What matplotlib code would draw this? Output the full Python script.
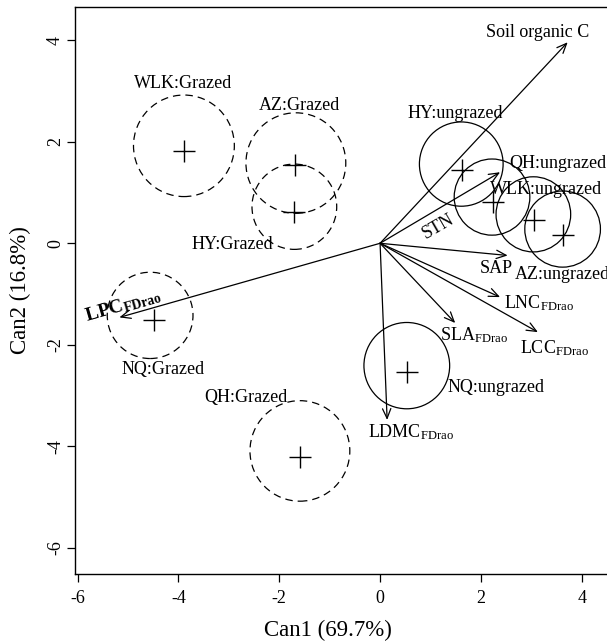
import matplotlib.pyplot as plt
from matplotlib.patches import Circle

plt.rcParams['font.family'] = ['Liberation Serif', 'DejaVu Serif']
plt.rcParams['mathtext.fontset'] = 'custom'
plt.rcParams['mathtext.rm'] = 'Liberation Serif'
plt.rcParams['mathtext.it'] = 'Liberation Serif:italic'
plt.rcParams['mathtext.bf'] = 'Liberation Serif:bold'
plt.rcParams['axes.unicode_minus'] = False

# group means (crosses) and confidence circles
groups = ['WLK:Grazed', 'AZ:Grazed', 'HY:Grazed', 'NQ:Grazed', 'QH:Grazed',
          'HY:ungrazed', 'QH:ungrazed', 'WLK:ungrazed', 'AZ:ungrazed', 'NQ:ungrazed']
grazed = [True, True, True, True, True, False, False, False, False, False]
mean_x = [-3.88, -1.68, -1.70, -4.48, -1.58, 1.62, 2.24, 3.05, 3.62, 0.53]
mean_y = [1.81, 1.54, 0.61, -1.52, -4.21, 1.44, 0.81, 0.45, 0.16, -2.53]
circ_x = [-3.89, -1.67, -1.70, -4.56, -1.59, 1.61, 2.22, 3.04, 3.62, 0.53]
circ_y = [1.92, 1.58, 0.72, -1.42, -4.09, 1.56, 0.91, 0.57, 0.28, -2.41]
circ_r = [1.00, 0.99, 0.84, 0.85, 0.99, 0.83, 0.75, 0.74, 0.75, 0.85]
glab_x = [-3.90, -1.59, -2.93, -4.30, -2.67, 1.50, 2.57, 2.18, 2.67, 1.33]
glab_y = [3.15, 2.72, -0.02, -2.48, -3.03, 2.56, 1.57, 1.06, -0.61, -2.85]
glab_ha = ['center', 'center', 'center', 'center', 'center',
           'center', 'left', 'left', 'left', 'left']

# structure coefficients (arrows from origin)
variables = ['Soil organic C', 'STN', 'SAP', r'LNC$_{\mathrm{FDrao}}$',
             r'LCC$_{\mathrm{FDrao}}$', r'SLA$_{\mathrm{FDrao}}$',
             r'LDMC$_{\mathrm{FDrao}}$', r'$\mathbf{LPC_{FDrao}}$']
arr_x = [3.72, 2.38, 2.53, 2.38, 3.13, 1.49, 0.14, -5.17]
arr_y = [3.96, 1.40, -0.24, -1.06, -1.75, -1.57, -3.48, -1.46]
vlab_x = [3.13, 1.15, 1.98, 2.46, 2.77, 1.19, -0.24, -5.10]
vlab_y = [4.16, 0.32, -0.49, -1.18, -2.07, -1.81, -3.72, -1.22]
vlab_ha = ['center', 'center', 'left', 'left', 'left', 'left', 'left', 'center']
vlab_rot = [0, 30, 0, 0, 0, 0, 0, 16]
vlab_size = [13, 13, 13, 13, 13, 13, 13, 14]

fig = plt.figure(figsize=(6.07, 6.44), dpi=100)
ax = fig.add_axes([75 / 607, 69.7 / 644, 545 / 607, 567.6 / 644])

for i in range(len(groups)):
    ls = (0, (6, 4)) if grazed[i] else '-'
    ax.add_patch(Circle((circ_x[i], circ_y[i]), circ_r[i], fill=False,
                        ec='black', lw=0.9, ls=ls))
    ax.plot(mean_x[i], mean_y[i], marker='+', ms=16, mew=1.0, color='black')
    ax.text(glab_x[i], glab_y[i], groups[i], fontsize=13, ha=glab_ha[i],
            va='center')

for i in range(len(variables)):
    ax.annotate('', xy=(arr_x[i], arr_y[i]), xytext=(0, 0),
                arrowprops=dict(arrowstyle='->,head_length=0.7,head_width=0.3',
                                lw=0.9, color='black', shrinkA=0, shrinkB=0))
    ax.text(vlab_x[i], vlab_y[i], variables[i], fontsize=vlab_size[i],
            ha=vlab_ha[i], va='center', rotation=vlab_rot[i],
            rotation_mode='anchor')

ax.set_xlim(-6.05, 4.758)
ax.set_ylim(-6.52, 4.66)
ax.set_xticks([-6, -4, -2, 0, 2, 4])
ax.set_yticks([-6, -4, -2, 0, 2, 4])
ax.tick_params(direction='out', length=6, width=0.9, labelsize=13, pad=5)
ax.tick_params(axis='y', labelrotation=90, pad=2)
for lab in ax.get_yticklabels():
    lab.set_va('center')
for s in ax.spines.values():
    s.set_linewidth(1.0)

fig.text(328 / 607, 1 - 630 / 644, 'Can1 (69.7%)', fontsize=16.5,
         ha='center', va='center')
fig.text(20 / 607, 1 - 290 / 644, 'Can2 (16.8%)', fontsize=16.5,
         ha='center', va='center', rotation=90)

fig.savefig('out.png', dpi=100)
